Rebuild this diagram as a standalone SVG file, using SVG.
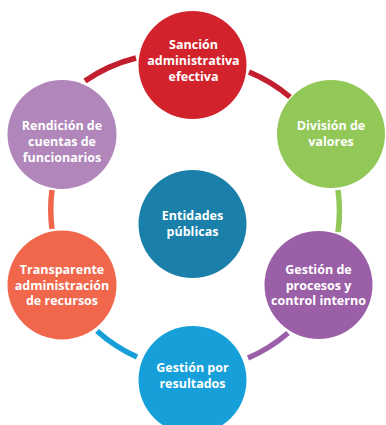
<svg xmlns="http://www.w3.org/2000/svg" width="386" height="425" viewBox="0 0 386 425">
<style>
.lbl{font-family:"Open Sans","Noto Sans","Liberation Sans",sans-serif;font-weight:700;font-size:12.5px;fill:#ffffff;text-anchor:middle}
.arc{fill:none;stroke-width:5.5;stroke-linecap:butt}
</style>
<rect width="386" height="425" fill="#ffffff"/>
<g id="connectors">
<path class="arc" stroke="#c21f2e" d="M85,81 A155,155 0 0 1 136,58"/>
<path class="arc" stroke="#c21f2e" d="M249,72 A155,155 0 0 1 290,97"/>
<path class="arc" stroke="#92c858" d="M338,190 A155,155 0 0 1 338,232"/>
<path class="arc" stroke="#9b5fa7" d="M288,333 A155,155 0 0 1 248,358"/>
<path class="arc" stroke="#169fd8" d="M137,357 A155,155 0 0 1 97,331"/>
<path class="arc" stroke="#f0674c" d="M52,229 A155,155 0 0 1 52,190"/>
</g>
<g id="sancion">
<circle cx="192.5" cy="65" r="54" fill="#d2232d"/>
<text class="lbl" x="193.5" y="48.5">Sanción</text>
<text class="lbl" x="193.5" y="65">administrativa</text>
<text class="lbl" x="193.5" y="81">efectiva</text>
</g>
<g id="division">
<circle cx="331" cy="134" r="54" fill="#92c858"/>
<text class="lbl" x="331" y="130">División de</text>
<text class="lbl" x="331" y="146">valores</text>
</g>
<g id="rendicion">
<circle cx="62" cy="134.5" r="54.5" fill="#b086bb"/>
<text class="lbl" x="62" y="130">Rendición de</text>
<text class="lbl" x="62" y="146">cuentas de</text>
<text class="lbl" x="62" y="162">funcionarios</text>
</g>
<g id="entidades">
<circle cx="192.5" cy="224" r="54" fill="#1a7fa9"/>
<text class="lbl" x="192.5" y="219.5">Entidades</text>
<text class="lbl" x="192.5" y="235.5">públicas</text>
</g>
<g id="transparente">
<circle cx="62" cy="285" r="54.5" fill="#f0674c"/>
<text class="lbl" x="62" y="273.5">Transparente</text>
<text class="lbl" x="62" y="289.5">administración</text>
<text class="lbl" x="62" y="305">de recursos</text>
</g>
<g id="procesos">
<circle cx="318.5" cy="285" r="54" fill="#9b5fa7"/>
<text class="lbl" x="318.5" y="273.5">Gestión de</text>
<text class="lbl" x="318.5" y="289.5">procesos y</text>
<text class="lbl" x="318.5" y="305">control interno</text>
</g>
<g id="resultados">
<circle cx="192.5" cy="380" r="54" fill="#169fd8"/>
<text class="lbl" x="192.5" y="372">Gestión por</text>
<text class="lbl" x="192.5" y="387.5">resultados</text>
</g>
</svg>
